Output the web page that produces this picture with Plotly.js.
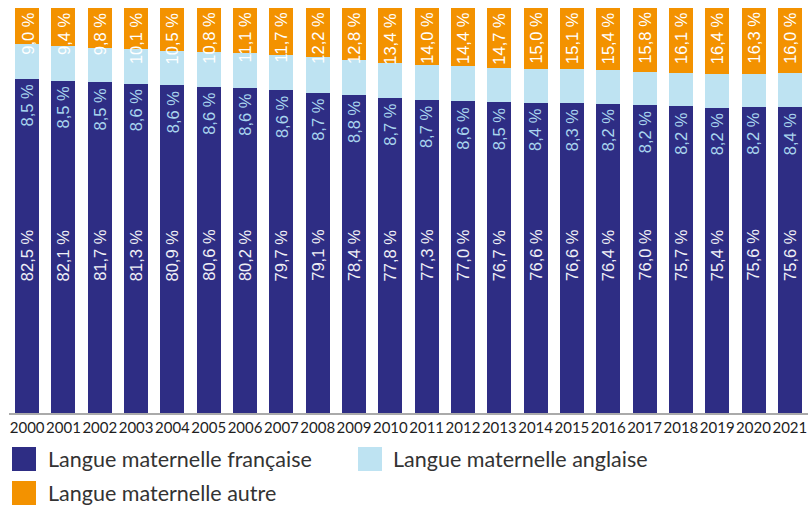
<!DOCTYPE html>
<html>
<head>
<meta charset="utf-8">
<script src="https://cdn.plot.ly/plotly-3.0.1.min.js"></script>
<style>html,body{margin:0;padding:0;background:#fff;}#chart{width:808px;height:505px;}</style>
</head>
<body>
<div id="chart"></div>
<script>
var years = ['2000','2001','2002','2003','2004','2005','2006','2007','2008','2009','2010','2011','2012','2013','2014','2015','2016','2017','2018','2019','2020','2021'];
var francais = [82.5,82.1,81.7,81.3,80.9,80.6,80.2,79.7,79.1,78.4,77.8,77.3,77.0,76.7,76.6,76.6,76.4,76.0,75.7,75.4,75.6,75.6];
var anglais  = [8.5,8.5,8.5,8.6,8.6,8.6,8.6,8.6,8.7,8.8,8.7,8.7,8.6,8.5,8.4,8.3,8.2,8.2,8.2,8.2,8.2,8.4];
var autre    = [9.0,9.4,9.8,10.1,10.5,10.8,11.1,11.7,12.2,12.8,13.4,14.0,14.4,14.7,15.0,15.1,15.4,15.8,16.1,16.4,16.3,16.0];
var seriesNames = ['Langue maternelle française','Langue maternelle anglaise','Langue maternelle autre'];
var seriesColors = ['#2e2d84','#bee3f2','#f39200'];

var W = 808, H = 505;
var M = {l: 9, r: 0, t: 8, b: 92};
var PW = W - M.l - M.r, PH = H - M.t - M.b;
function px2x(px){ return (px - M.l) / PW; }
function py2y(py){ return (H - M.b - py) / PH; }
function fmt(v){ return v.toFixed(1).replace('.', ',') + ' %'; }

var series = [francais, anglais, autre];
var traces = series.map(function(vals, k){
  return {type:'bar', x: years, y: vals, name: seriesNames[k],
    marker:{color: seriesColors[k], line:{width:0}}, showlegend:false, hoverinfo:'skip'};
});

var labelFont = 'Liberation Sans, Arial, sans-serif';
var annotations = [];
years.forEach(function(yr, i){
  annotations.push({x: i, y: 39, xref:'x', yref:'y', text: fmt(francais[i]), textangle:-90,
    showarrow:false, yanchor:'middle', font:{family: labelFont, size:16.5, color:'#f0f0f6'}});
  annotations.push({x: i, y: francais[i], xref:'x', yref:'y', text: fmt(anglais[i]), textangle:-90,
    showarrow:false, yanchor:'top', yshift:-3, font:{family: labelFont, size:16.5, color:'#a9d5ee'}});
  annotations.push({x: i, y: Math.min(100, francais[i] + anglais[i] + autre[i]), xref:'x', yref:'y', text: fmt(autre[i]), textangle:-90,
    showarrow:false, yanchor:'top', yshift:-2, font:{family: labelFont, size:16.5, color:'#ffffff'}});
});

// custom legend
var legendPos = [{sx:12, sy:447, tx:46}, {sx:358, sy:447, tx:391}, {sx:12, sy:481, tx:46}];
var shapes = [];
seriesNames.forEach(function(n, k){
  var p = legendPos[k];
  shapes.push({type:'rect', xref:'paper', yref:'paper', x0:px2x(p.sx), x1:px2x(p.sx+24), y0:py2y(p.sy+24), y1:py2y(p.sy),
    fillcolor: seriesColors[k], line:{width:0}});
  annotations.push({xref:'paper', yref:'paper', x:px2x(p.tx), y:py2y(p.sy+12), xanchor:'left', yanchor:'middle',
    text:n, showarrow:false, font:{family:'Lato, Nunito, sans-serif', size:21.5, color:'#333333'}});
});

var layout = {
  width: W, height: H,
  margin: M,
  barmode: 'stack',
  bargap: 0.34,
  paper_bgcolor:'#ffffff', plot_bgcolor:'#ffffff',
  showlegend:false,
  xaxis:{type:'category', range:[-0.5, years.length - 0.5], showline:true, linecolor:'#aaaaaa', linewidth:1.5, ticks:'', showgrid:false,
    tickangle:0, tickfont:{family:'Lato, Nunito, sans-serif', size:15, color:'#1e1e1e'}, ticklabelstandoff: 0, fixedrange:true},
  yaxis:{range:[0,100], visible:false, showgrid:false, zeroline:false, fixedrange:true},
  annotations: annotations,
  shapes: shapes
};
Plotly.newPlot('chart', traces, layout, {staticPlot:true, displayModeBar:false});
</script>
</body>
</html>
